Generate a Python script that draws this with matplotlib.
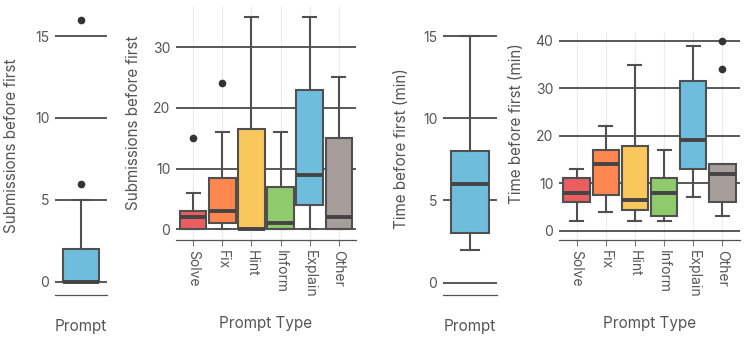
import matplotlib.pyplot as plt

plt.rcParams['font.family'] = ['Inter', 'DejaVu Sans']

types = ['Solve', 'Fix', 'Hint', 'Inform', 'Explain', 'Other']
colors = ['#EA5E61', '#FF864F', '#F9C75B', '#8FCB6C', '#6EBDDD', '#A79D9B']

# all prompts pooled: q1, median, q3, lower whisker, upper whisker
sub_all = [0, 0, 2, 0, 5]
sub_all_out = [6, 16]
time_all = [3, 6, 8, 2, 15]
time_all_out = []

# submissions before first, by prompt type
sub_q1 = [0, 1, 0, 0, 4, 0]
sub_med = [2, 3, 0, 1, 9, 2]
sub_q3 = [3, 8.5, 16.5, 7, 23, 15]
sub_lo = [0, 0, 0, 0, 0, 0]
sub_hi = [6, 16, 35, 16, 35, 25]
sub_out = [[15], [24], [], [], [], []]

# time before first (min), by prompt type
time_q1 = [6, 7.5, 4.25, 3, 13, 6]
time_med = [8, 14, 6.5, 8, 19, 12]
time_q3 = [11, 17, 17.75, 11, 31.5, 14]
time_lo = [2, 4, 2, 2, 7, 3]
time_hi = [13, 22, 35, 17, 39, 14]
time_out = [[], [], [], [], [], [40, 34]]

W, H = 747, 337
fig = plt.figure(figsize=(W / 100, H / 100), dpi=100)

grid_c = '#2b2b2b'
edge_c = '#505050'
text_c = '#555555'


def add_ax(l, r, t, b):
    return fig.add_axes([l / W, (H - b) / H, (r - l) / W, (b - t) / H])


def make_stats(q1, med, q3, lo, hi, out):
    return [dict(q1=a, med=m, q3=c, whislo=d, whishi=e, fliers=f)
            for a, m, c, d, e, f in zip(q1, med, q3, lo, hi, out)]


def draw(ax, stats, fills, width, yticks, ylim, xlim, tick_labels):
    pos = list(range(len(stats)))
    bp = ax.bxp(stats, positions=pos, widths=width, patch_artist=True,
                capwidths=width * 0.5,
                boxprops=dict(edgecolor=edge_c, linewidth=1.5),
                medianprops=dict(color='#444444', linewidth=2.8, solid_capstyle='butt'),
                whiskerprops=dict(color=edge_c, linewidth=1.5),
                capprops=dict(color=edge_c, linewidth=1.5),
                flierprops=dict(marker='o', markerfacecolor='#333333',
                                markeredgecolor='#333333', markersize=4.5))
    for patch, c in zip(bp['boxes'], fills):
        patch.set_facecolor(c)
    ax.set_xlim(*xlim)
    ax.set_ylim(*ylim)
    ax.set_yticks(yticks)
    ax.set_axisbelow(True)
    ax.yaxis.grid(True, color=grid_c, linewidth=1.1)
    ax.xaxis.grid(True, color='#ebebeb', linewidth=0.8)
    for s in ['top', 'right', 'left']:
        ax.spines[s].set_visible(False)
    ax.spines['bottom'].set_color('#555555')
    ax.spines['bottom'].set_linewidth(0.9)
    ax.tick_params(axis='y', length=0, pad=4, labelsize=10, labelcolor=text_c)
    if tick_labels:
        ax.set_xticks(pos)
        ax.set_xticklabels(tick_labels, rotation=-90, ha='center', va='top')
        ax.tick_params(axis='x', length=4, width=0.8, color='#777777', pad=3,
                       labelsize=10, labelcolor=text_c)
    else:
        ax.set_xticks(pos)
        ax.tick_params(axis='x', length=0, labelbottom=False)
        ax.xaxis.grid(False)


def labels(ax, l, r, t, b, xlab, ylab, xl_base, yl_x, yl_y):
    ax.set_xlabel(xlab, fontsize=11, color=text_c)
    ax.xaxis.label.set_verticalalignment('baseline')
    ax.xaxis.set_label_coords(0.5, (b - xl_base) / (b - t))
    ax.set_ylabel(ylab, fontsize=11, color=text_c)
    ax.yaxis.label.set_verticalalignment('center')
    ax.yaxis.set_label_coords((yl_x - l) / (r - l), (b - yl_y) / (b - t))


# panel 1: submissions, pooled
ax1 = add_ax(55, 107, 6.5, 295)
draw(ax1, [dict(q1=sub_all[0], med=sub_all[1], q3=sub_all[2], whislo=sub_all[3],
                whishi=sub_all[4], fliers=sub_all_out)],
     [colors[4]], 0.84, [0, 5, 10, 15], (-0.8, 16.8), (-0.6, 0.6), None)
labels(ax1, 55, 107, 6.5, 295, 'Prompt', 'Submissions before first', 331, 12, 146)

# panel 2: submissions by type
ax2 = add_ax(176, 356, 6, 240)
draw(ax2, make_stats(sub_q1, sub_med, sub_q3, sub_lo, sub_hi, sub_out),
     colors, 0.9, [0, 10, 20, 30], (-1.75, 36.75), (-0.6, 5.6), types)
labels(ax2, 176, 356, 6, 240, 'Prompt Type', 'Submissions before first', 328, 133.5, 123)

# panel 3: time, pooled
ax3 = add_ax(443, 497, 23.7, 295)
draw(ax3, [dict(q1=time_all[0], med=time_all[1], q3=time_all[2], whislo=time_all[3],
                whishi=time_all[4], fliers=time_all_out)],
     [colors[4]], 0.84, [0, 5, 10, 15], (-0.75, 15.75), (-0.6, 0.6), None)
labels(ax3, 443, 497, 23.7, 295, 'Prompt', 'Time before first (min)', 331, 401.5, 149)

# panel 4: time by type
ax4 = add_ax(559, 740, 31.5, 240)
draw(ax4, make_stats(time_q1, time_med, time_q3, time_lo, time_hi, time_out),
     colors, 0.9, [0, 10, 20, 30, 40], (-2, 42), (-0.6, 5.6), types)
labels(ax4, 559, 740, 31.5, 240, 'Prompt Type', 'Time before first (min)', 328, 516.5, 123.5)

fig.savefig('out.png', dpi=100)
